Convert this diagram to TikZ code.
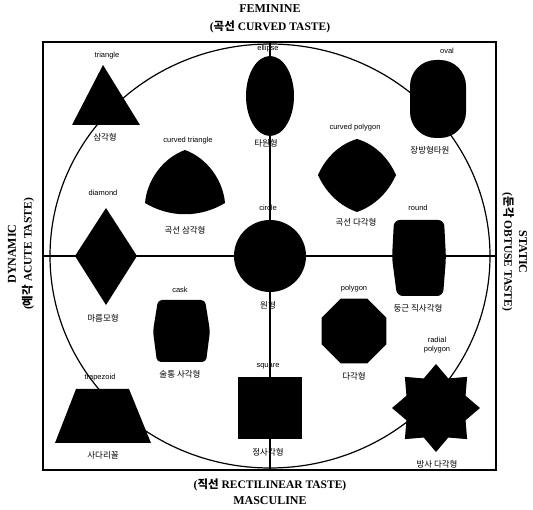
\documentclass[tikz,border=0pt]{standalone}
\usepackage{fontspec}
\setmainfont{Liberation Serif}
\newfontfamily\kr{Noto Sans CJK KR}
\newfontfamily\lab{Liberation Sans}
\begin{document}
\begin{tikzpicture}[x=1pt,y=-1pt,
  frameline/.style={line width=1.8pt},
  axisline/.style={line width=1.3pt},
  ringline/.style={line width=1.2pt},
  solid shape/.style={fill=black},
  namelab/.style={font=\lab\fontsize{7.5}{8.5}\selectfont, inner sep=0pt, align=center},
  korlab/.style={font=\kr\fontsize{8.5}{9.5}\selectfont, inner sep=0pt},
  headbig/.style={font=\bfseries\fontsize{12}{13}\selectfont, inner sep=0pt},
  headsmall/.style={font=\bfseries\fontsize{11.5}{13}\selectfont, inner sep=0pt},
]
\useasboundingbox (0,0) rectangle (533,510);
\fill[white] (0,0) rectangle (533,510);

% frame, axes and the big ring
\draw[frameline] (43,42) rectangle (496,470);
\coordinate (L) at (43,256);
\coordinate (R) at (496,256);
\coordinate (T) at (270,42);
\coordinate (B) at (270,470);
\draw[axisline] (L) -- (R);
\draw[axisline] (T) -- (B);
\draw[ringline] (270,256) ellipse [x radius=220pt, y radius=212pt];

% axis titles
\node[headbig]   (fem)  at (270,9)   {FEMININE};
\node[headsmall] (curv) at (270,27)  {({\kr 곡선} CURVED TASTE)};
\node[headsmall] (rect) at (270,485) {({\kr 직선} RECTILINEAR TASTE)};
\node[headbig]   (masc) at (270,501) {MASCULINE};
\node[headbig,rotate=90]    (dyn)  at (12,254)  {DYNAMIC};
\node[headsmall,rotate=90]  (acu)  at (28,254)  {({\kr 예각} ACUTE TASTE)};
\node[headbig,rotate=-90]   (sta)  at (523,252) {STATIC};
\node[headsmall,rotate=-90] (obt)  at (508,252) {({\kr 둔각} OBTUSE TASTE)};

% triangle
\fill[solid shape] (103,65) -- (140,125) -- (72,125) -- cycle;
\node[namelab] (triT) at (107,56)  {triangle};
\node[korlab]  (triK) at (105,137) {삼각형};

% ellipse
\fill[solid shape] (270,96) ellipse [x radius=24pt, y radius=40pt];
\node[namelab] (ellT) at (268,49)  {ellipse};
\node[korlab]  (ellK) at (266,143) {타원형};

% oval
\fill[solid shape, rounded corners=26pt] (410,60) rectangle (466,138);
\node[namelab] (ovlT) at (447,51)  {oval};
\node[korlab]  (ovlK) at (430,150) {장방형타원};

% curved triangle
\fill[solid shape] (185,150) .. controls (207,158) and (223,180) .. (225,203)
  .. controls (200,218) and (170,218) .. (145,203)
  .. controls (147,180) and (163,158) .. (185,150) -- cycle;
\node[namelab] (ctrT) at (188,141) {curved triangle};
\node[korlab]  (ctrK) at (185,230) {곡선 삼각형};

% curved polygon
\fill[solid shape] (318,175) .. controls (326,157) and (340,144) .. (357,139)
  .. controls (374,144) and (388,157) .. (396,175)
  .. controls (388,193) and (374,206) .. (357,212)
  .. controls (340,206) and (326,193) .. (318,175) -- cycle;
\node[namelab] (cpoT) at (355,128) {curved polygon};
\node[korlab]  (cpoK) at (356,222) {곡선 다각형};

% diamond
\fill[solid shape] (106,208) -- (137,256) -- (106,305) -- (75,256) -- cycle;
\node[namelab] (diaT) at (103,193) {diamond};
\node[korlab]  (diaK) at (103,318) {마름모형};

% circle
\fill[solid shape] (270,256) circle [radius=36pt];
\node[namelab] (cirT) at (268,208) {circle};
\node[korlab]  (cirK) at (268,305) {원형};

% round
\fill[solid shape, rounded corners=6pt] (394,220) -- (444,220) -- (446,258)
  -- (443,296) -- (397,296) -- (392,258) -- cycle;
\node[namelab] (rndT) at (418,208) {round};
\node[korlab]  (rndK) at (418,308) {둥근 직사각형};

% cask
\fill[solid shape, rounded corners=4pt] (158,300) -- (205,300) -- (210,331)
  -- (206,362) -- (157,362) -- (153,331) -- cycle;
\node[namelab] (cskT) at (180,290) {cask};
\node[korlab]  (cskK) at (180,374) {술통 사각형};

% polygon
\fill[solid shape, shift={(354,331)}] plot[samples at={0,...,7}]
  ({22.5+\x*45}:35) -- cycle;
\node[namelab] (polT) at (354,289) {polygon};
\node[korlab]  (polK) at (354,376) {다각형};

% radial polygon
\fill[solid shape, shift={(436,408)}] plot[samples at={0,...,15}]
  ({\x*22.5}:{38+6*cos(180*\x)}) -- cycle;
\node[namelab] (radT) at (437,345) {radial\\polygon};
\node[korlab]  (radK) at (437,464) {방사 다각형};

% trapezoid
\fill[solid shape] (76,389) -- (129,389) -- (151,443) -- (55,443) -- cycle;
\node[namelab] (trpT) at (100,378) {trapezoid};
\node[korlab]  (trpK) at (103,455) {사다리꼴};

% square
\fill[solid shape] (238,377) rectangle (302,439);
\node[namelab] (sqrT) at (268,366) {square};
\node[korlab]  (sqrK) at (268,452) {정사각형};
\end{tikzpicture}
\end{document}
